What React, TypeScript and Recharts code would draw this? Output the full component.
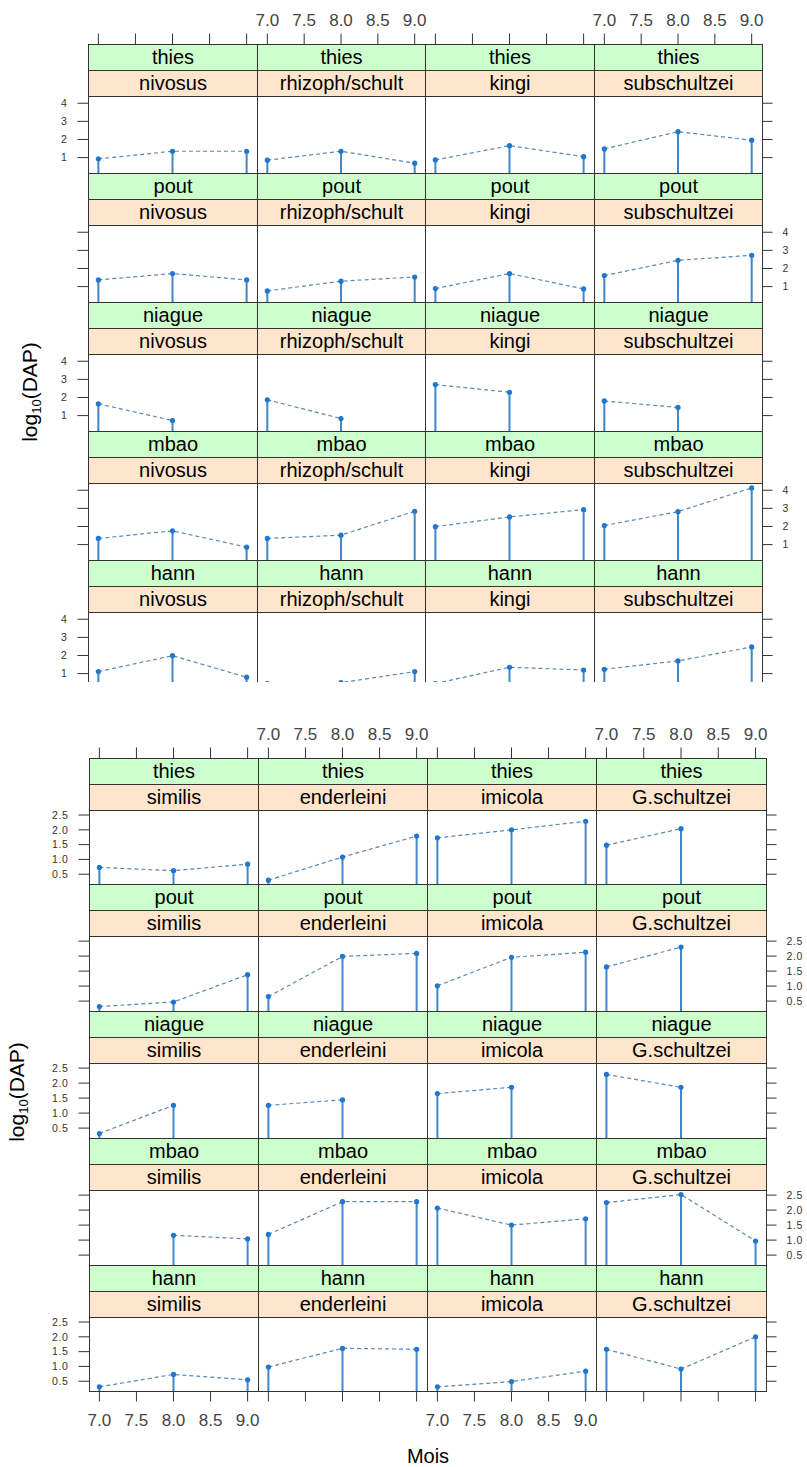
import React from 'react';
import { LineChart, Line, XAxis, YAxis, ReferenceLine } from 'recharts';

// ---------------- data ----------------
const months = [7, 8, 9];
const xTicks = [7, 7.5, 8, 8.5, 9];
const sites = ['thies', 'pout', 'niague', 'mbao', 'hann'];
const speciesTop = ['nivosus', 'rhizoph/schult', 'kingi', 'subschultzei'];
const speciesBottom = ['similis', 'enderleini', 'imicola', 'G.schultzei'];
const yTicksTop = [1, 2, 3, 4];
const yTicksBottom = [0.5, 1, 1.5, 2, 2.5];

// values per site (thies, pout, niague, mbao, hann) for months 7, 8, 9
const nivosus = [[0.93, 1.35, 1.35], [1.37, 1.72, 1.37], [1.65, 0.73, null], [1.34, 1.76, 0.86], [1.11, 1.99, 0.8]];
const rhizophSchult = [[0.86, 1.35, 0.69], [0.76, 1.3, 1.53], [1.87, 0.84, null], [1.34, 1.52, 2.84], [0.45, 0.5, 1.11]];
const kingi = [[0.87, 1.66, 1.05], [0.89, 1.72, 0.87], [2.71, 2.29, null], [1.99, 2.53, 2.93], [0.45, 1.35, 1.2]];
const subschultzei = [[1.48, 2.43, 1.96], [1.61, 2.45, 2.73], [1.81, 1.45, null], [2.05, 2.82, 4.13], [1.24, 1.7, 2.47]];

const similis = [[0.73, 0.62, 0.84], [0.32, 0.47, 1.38], [0.32, 1.26, null], [null, 1.16, 1.04], [0.31, 0.73, 0.55]];
const enderleini = [[0.3, 1.08, 1.79], [0.65, 1.99, 2.09], [1.26, 1.44, null], [1.19, 2.28, 2.28], [0.98, 1.61, 1.58]];
const imicola = [[1.73, 2.0, 2.29], [1.01, 1.96, 2.13], [1.65, 1.86, null], [2.07, 1.5, 1.71], [0.31, 0.49, 0.84]];
const gSchultzei = [[1.48, 2.04, null], [1.64, 2.3, null], [2.29, 1.86, null], [2.25, 2.52, 0.97], [1.58, 0.91, 2.0]];

// ---------------- styles ----------------
const FONT = '"Liberation Sans", Arial, Helvetica, sans-serif';
const PT = '#1f77d0';
const DROP = '#4088c8';
const DASH = '#5a88b0';
const AX = '#333333';
const GREEN = '#ccffcc';
const PEACH = '#ffe5cc';
const X_DOMAIN: [number, number] = [6.86, 9.14];

type Block = {
  left: number; colW: number; top: number; stripH: number; panelH: number; pitch: number;
  yDomain: [number, number]; yTicks: number[]; yFmt: (v: number) => string;
  series: (number | null)[][][]; species: string[];
  bottomAxis: boolean; clipH?: number; ylabX: number; ylabY: number;
};

const blockA: Block = {
  left: 88.3, colW: 168.4, top: 44, stripH: 26, panelH: 77, pitch: 129,
  yDomain: [0.15, 4.4], yTicks: yTicksTop, yFmt: (v) => String(v),
  series: [nivosus, rhizophSchult, kingi, subschultzei], species: speciesTop,
  bottomAxis: false, clipH: 682, ylabX: 31, ylabY: 392,
};

const blockB: Block = {
  left: 88.7, colW: 169.25, top: 757.7, stripH: 25.6, panelH: 75.5, pitch: 126.7,
  yDomain: [0.17, 2.67], yTicks: yTicksBottom, yFmt: (v) => v.toFixed(1),
  series: [similis, enderleini, imicola, gSchultzei], species: speciesBottom,
  bottomAxis: true, ylabX: 18, ylabY: 1092,
};

const LW = 60;
const RW = 45;
const AH = 40;
const PADX = 24;

const colX = (b: Block, c: number) => Math.round(b.left + c * b.colW);
const colWidth = (b: Block, c: number) => colX(b, c + 1) - colX(b, c);
const rowY = (b: Block, r: number) => Math.round(b.top + r * b.pitch);
const stripH = (b: Block) => Math.round(b.stripH);
const panelTopY = (b: Block, r: number) => rowY(b, r) + 2 * stripH(b);
const panelH = (b: Block, r: number) => rowY(b, r + 1) - panelTopY(b, r);

const hiddenTick = () => <g />;

function Panel({ block, row, col }: { block: Block; row: number; col: number }) {
  const values = block.series[col][row];
  const data = months.map((m, i) => ({ x: m, y: values[i] }));
  const pLeft = colX(block, col);
  const pW = colWidth(block, col);
  const pTop = panelTopY(block, row);
  const pH = panelH(block, row);
  const hasLeft = col === 0;
  const hasRight = col === 3;
  const showLabels = hasLeft ? row % 2 === 0 : row % 2 === 1;
  const width = pW + (hasLeft ? LW : 0) + (hasRight ? RW : 0);
  return (
    <div style={{ position: 'absolute', left: pLeft - (hasLeft ? LW : 0), top: pTop }}>
      <LineChart width={width} height={pH} data={data} margin={{ top: 0, right: 0, bottom: 0, left: 0 }}>
        <XAxis type="number" dataKey="x" domain={X_DOMAIN} allowDataOverflow hide />
        <YAxis
          yAxisId="y"
          type="number"
          domain={block.yDomain}
          allowDataOverflow
          hide={!hasLeft && !hasRight}
          orientation={hasRight ? 'right' : 'left'}
          width={hasLeft ? LW : hasRight ? RW : 0}
          ticks={block.yTicks}
          interval={0}
          tickSize={10.5}
          tickMargin={10}
          axisLine={false}
          tickLine={{ stroke: AX, strokeWidth: 1 }}
          tickFormatter={block.yFmt}
          tick={showLabels ? { fontSize: 10.5, fill: '#333', fontFamily: FONT, letterSpacing: 0.6 } : hiddenTick}
        />
        {data.filter((d) => d.y != null).map((d) => (
          <ReferenceLine
            key={'d' + d.x}
            yAxisId="y"
            segment={[{ x: d.x, y: d.y as number }, { x: d.x, y: block.yDomain[0] }]}
            stroke={DROP}
            strokeWidth={2}
          />
        ))}
        <Line
          yAxisId="y"
          type="linear"
          dataKey="y"
          stroke={DASH}
          strokeWidth={1.2}
          strokeDasharray="4 3"
          connectNulls={false}
          dot={{ r: 2.6, fill: PT, stroke: 'none', strokeDasharray: '' }}
          activeDot={false}
          isAnimationActive={false}
        />
      </LineChart>
    </div>
  );
}

function XAxisStrip({ block, col, side, showLabels }: { block: Block; col: number; side: 'top' | 'bottom'; showLabels: boolean }) {
  const left = colX(block, col);
  const w = colWidth(block, col);
  const bottomY = rowY(block, 5);
  const top = side === 'top' ? rowY(block, 0) - AH : bottomY - 10;
  return (
    <div style={{ position: 'absolute', left: left - PADX, top }}>
      <LineChart
        width={w + 2 * PADX}
        height={AH + 10}
        data={[{ x: 7, y: 0.5 }, { x: 9, y: 0.5 }]}
        margin={side === 'top' ? { top: 0, right: PADX, bottom: 0, left: PADX } : { top: 0, right: PADX, bottom: 0, left: PADX }}
      >
        <XAxis
          type="number"
          dataKey="x"
          domain={X_DOMAIN}
          allowDataOverflow
          orientation={side}
          height={AH}
          ticks={xTicks}
          interval={0}
          tickSize={10.5}
          tickMargin={side === 'top' ? 8 : 12}
          axisLine={false}
          tickLine={{ stroke: AX, strokeWidth: 1 }}
          tickFormatter={(v: number) => v.toFixed(1)}
          tick={showLabels ? { fontSize: 17, fill: '#444', fontFamily: FONT } : hiddenTick}
        />
        <YAxis type="number" domain={[0, 1]} hide />
        <Line dataKey="y" stroke="none" dot={false} activeDot={false} isAnimationActive={false} />
      </LineChart>
    </div>
  );
}

function BlockView({ block }: { block: Block }) {
  const strips: React.ReactNode[] = [];
  const frames: React.ReactNode[] = [];
  const panels: React.ReactNode[] = [];
  const sh = stripH(block);
  for (let r = 0; r < 5; r++) {
    for (let c = 0; c < 4; c++) {
      const x = colX(block, c);
      const w = colWidth(block, c);
      const y = rowY(block, r);
      const common: React.CSSProperties = {
        position: 'absolute', left: x, width: w + 1, height: sh + 1,
        boxSizing: 'border-box', border: '1px solid ' + AX, textAlign: 'center',
        fontFamily: FONT, fontSize: 20, lineHeight: sh - 1 + 'px', color: '#000', whiteSpace: 'nowrap',
      };
      strips.push(<div key={`g${r}${c}`} style={{ ...common, top: y, background: GREEN }}>{sites[r]}</div>);
      strips.push(<div key={`o${r}${c}`} style={{ ...common, top: y + sh, background: PEACH }}>{block.species[c]}</div>);
      frames.push(
        <div key={`f${r}${c}`} style={{
          position: 'absolute', left: x, top: panelTopY(block, r), width: w + 1, height: panelH(block, r) + 1,
          boxSizing: 'border-box', border: '1px solid ' + AX, pointerEvents: 'none',
        }} />
      );
      panels.push(<Panel key={`p${r}${c}`} block={block} row={r} col={c} />);
    }
  }
  const axes: React.ReactNode[] = [];
  for (let c = 0; c < 4; c++) {
    axes.push(<XAxisStrip key={`t${c}`} block={block} col={c} side="top" showLabels={c % 2 === 1} />);
    if (block.bottomAxis) axes.push(<XAxisStrip key={`b${c}`} block={block} col={c} side="bottom" showLabels={c % 2 === 0} />);
  }
  return (
    <>
      {strips}
      {axes}
      {panels}
      {frames}
      <div style={{
        position: 'absolute', left: block.ylabX, top: block.ylabY, transform: 'translate(-50%, -50%) rotate(-90deg)',
        whiteSpace: 'nowrap', fontFamily: FONT, fontSize: 21, color: '#000',
      }}>
        log<sub style={{ fontSize: 13, verticalAlign: '-0.35em' }}>10</sub>(DAP)
      </div>
    </>
  );
}

export default function App() {
  return (
    <div style={{ position: 'absolute', left: 0, top: 0, width: 807, height: 1467, background: '#fff', overflow: 'hidden' }}>
      <div style={{ position: 'absolute', left: 0, top: 0, width: 807, height: blockA.clipH, overflow: 'hidden' }}>
        <BlockView block={blockA} />
      </div>
      <div style={{ position: 'absolute', left: 0, top: 0, width: 807, height: 1467 }}>
        <BlockView block={blockB} />
      </div>
      <div style={{
        position: 'absolute', left: 428, top: 1456, transform: 'translate(-50%, -50%)',
        fontFamily: FONT, fontSize: 20, color: '#000',
      }}>Mois</div>
    </div>
  );
}
